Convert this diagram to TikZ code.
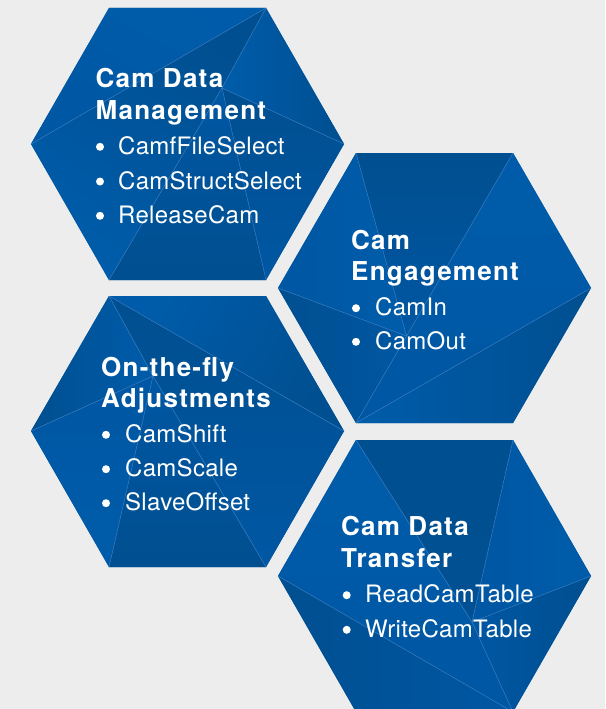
\documentclass[tikz,border=0pt]{standalone}
\usepackage{fontspec}
\usetikzlibrary{calc}
\setmainfont{TeX Gyre Heros}
\newfontfamily\titlefont[LetterSpace=4.8]{TeX Gyre Heros}
\newfontfamily\itemfont[LetterSpace=1.2]{TeX Gyre Heros}
\definecolor{bgc}{HTML}{EDEDED}
\definecolor{bluA}{HTML}{005CAA}
\definecolor{bluB}{HTML}{0057A3}
\definecolor{bluC}{HTML}{004F90}
\definecolor{edgec}{HTML}{3F80C4}
\tikzset{
  titletext/.style={anchor=base west, inner sep=0pt, text=white, font=\titlefont\bfseries\fontsize{26}{30}\selectfont},
  itemtext/.style={anchor=base west, inner sep=0pt, text=white, font=\itemfont\fontsize{24}{28}\selectfont},
  bulletdot/.style={circle, fill=white, minimum size=8pt, inner sep=0pt},
  facetline/.style={draw=edgec, line width=0.45pt},
  hexbase/.style={fill=bluB},
}
\begin{document}
\begin{tikzpicture}[x=1pt,y=-1pt]
\fill[bgc] (0,0) rectangle (605,709);
\useasboundingbox (0,0) rectangle (605,709);

% ---------- Hexagon 1 ----------
\coordinate (a1) at (109,8);  \coordinate (a2) at (266,8);
\coordinate (a3) at (344,144); \coordinate (a4) at (266,280);
\coordinate (a5) at (109,280); \coordinate (a6) at (31,144);
\coordinate (aP) at (222,88);
\fill[hexbase] (a1)--(a2)--(a3)--(a4)--(a5)--(a6)--cycle;
\shade[top color=bluA, bottom color=bluB, shading angle=-30] (a1)--(a2)--(a6)--cycle;
\shade[top color=bluC, bottom color=bluA, shading angle=-35] (a6)--(a2)--(aP)--(a5)--cycle;
\shade[left color=bluA, right color=bluC] (a2)--(a3)--(aP)--cycle;
\shade[top color=bluC, bottom color=bluB] (aP)--(a3)--(a4)--cycle;
\shade[top color=bluB, bottom color=bluC] (aP)--(a4)--(a5)--cycle;
\draw[facetline] (a6)--(a2) (a2)--(aP) (aP)--(a3) (aP)--(a4) (aP)--(a5);

% ---------- Hexagon 2 ----------
\coordinate (b1) at (356,153); \coordinate (b2) at (513,153);
\coordinate (b3) at (591,288); \coordinate (b4) at (513,423);
\coordinate (b5) at (356,423); \coordinate (b6) at (278,288);
\coordinate (bP) at ($(b2)!0.678!(b5)$);
\fill[hexbase] (b1)--(b2)--(b3)--(b4)--(b5)--(b6)--cycle;
\shade[top color=bluC, bottom color=bluB] (b1)--(b2)--(bP)--cycle;
\shade[left color=bluB, right color=bluA] (b1)--(bP)--(b6)--cycle;
\shade[top color=bluA, bottom color=bluB] (b2)--(b3)--(b5)--cycle;
\shade[left color=bluC, right color=bluB] (b6)--(bP)--(b5)--cycle;
\shade[left color=bluA, right color=bluC] (b3)--(b4)--(b5)--cycle;
\draw[facetline] (b1)--(bP) (b6)--(bP) (b2)--(b5) (b3)--(b5);

% ---------- Hexagon 3 ----------
\coordinate (c1) at (109,296); \coordinate (c2) at (266,296);
\coordinate (c3) at (344,431); \coordinate (c4) at (266,567);
\coordinate (c5) at (109,567); \coordinate (c6) at (31,431);
\coordinate (cP) at (153,376);
\fill[hexbase] (c1)--(c2)--(c3)--(c4)--(c5)--(c6)--cycle;
\shade[left color=bluA, right color=bluC, shading angle=60] (c1)--(c2)--(c3)--cycle;
\shade[top color=bluC, bottom color=bluB] (c1)--(c3)--(c4)--(cP)--cycle;
\shade[left color=bluC, right color=bluA] (c1)--(cP)--(c6)--cycle;
\shade[top color=bluB, bottom color=bluA] (c6)--(cP)--(c5)--cycle;
\shade[top color=bluB, bottom color=bluC] (cP)--(c4)--(c5)--cycle;
\draw[facetline] (c1)--(cP) (c1)--(c3) (c6)--(cP) (cP)--(c5) (cP)--(c4);

% ---------- Hexagon 4 ----------
\coordinate (d1) at (356,440); \coordinate (d2) at (513,440);
\coordinate (d3) at (591,576); \coordinate (d4) at (513,712);
\coordinate (d5) at (356,712); \coordinate (d6) at (278,576);
\coordinate (dP) at (472,622);
\fill[hexbase] (d1)--(d2)--(d3)--(d4)--(d5)--(d6)--cycle;
\shade[top color=bluC, bottom color=bluC!85!bluB] (d1)--(d2)--(dP)--cycle;
\shade[top color=bluA, bottom color=bluB] (d1)--(dP)--(d4)--(d6)--cycle;
\shade[left color=bluB, right color=bluA] (d2)--(d3)--(dP)--cycle;
\shade[left color=bluB, right color=bluC] (d3)--(d4)--(dP)--cycle;
\shade[left color=bluC, right color=bluB] (d6)--(d4)--(d5)--cycle;
\draw[facetline] (d1)--(dP) (d2)--(dP) (d3)--(dP) (dP)--(d4) (d6)--(d4);

% ---------- Texts ----------
\node[titletext] (t11) at (95.5,87.3) {Cam Data};
\node[titletext] (t12) at (95.5,119.3) {Management};
\node[bulletdot] (u11) at (100,146.8) {};
\node[itemtext] (i11) at (118,154.3) {CamfFileSelect};
\node[bulletdot] (u12) at (100,181.5) {};
\node[itemtext] (i12) at (118,189) {CamStructSelect};
\node[bulletdot] (u13) at (100,215.8) {};
\node[itemtext] (i13) at (118,223.3) {ReleaseCam};

\node[titletext] (t21) at (351,249) {Cam};
\node[titletext] (t22) at (351,280) {Engagement};
\node[bulletdot] (u21) at (356,308.2) {};
\node[itemtext] (i21) at (375,315.7) {CamIn};
\node[bulletdot] (u22) at (356,341.8) {};
\node[itemtext] (i22) at (375,349.3) {CamOut};

\node[titletext] (t31) at (101,376) {On-the-fly};
\node[titletext] (t32) at (101,407.7) {Adjustments};
\node[bulletdot] (u31) at (106,434.8) {};
\node[itemtext] (i31) at (125,442.3) {CamShift};
\node[bulletdot] (u32) at (106,469.2) {};
\node[itemtext] (i32) at (125,476.7) {CamScale};
\node[bulletdot] (u33) at (106,503.2) {};
\node[itemtext] (i33) at (125,510.7) {SlaveOffset};

\node[titletext] (t41) at (341,535.3) {Cam Data};
\node[titletext] (t42) at (341,567.7) {Transfer};
\node[bulletdot] (u41) at (346.7,595.2) {};
\node[itemtext] (i41) at (365,602.7) {ReadCamTable};
\node[bulletdot] (u42) at (346.7,629.8) {};
\node[itemtext] (i42) at (365,637.3) {WriteCamTable};
\end{tikzpicture}
\end{document}
